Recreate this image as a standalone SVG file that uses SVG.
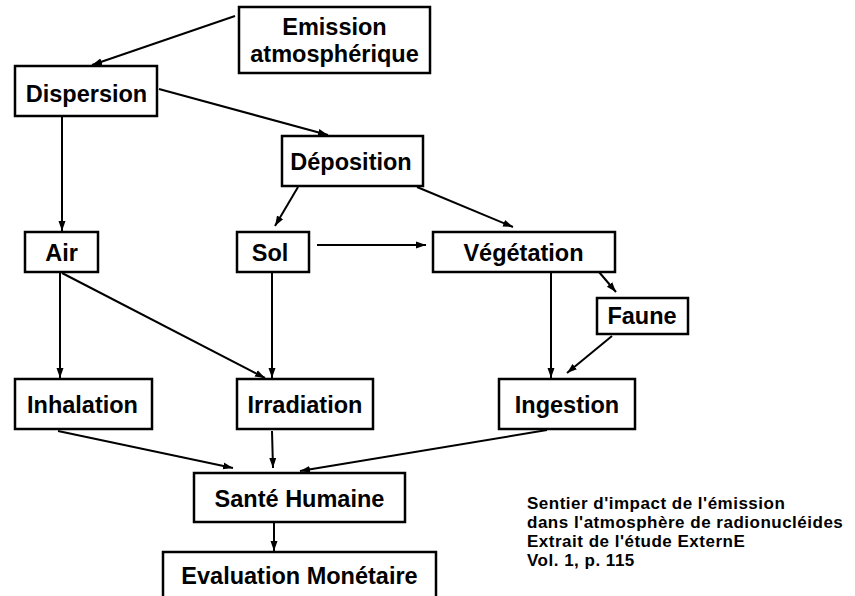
<svg xmlns="http://www.w3.org/2000/svg" width="855" height="596" viewBox="0 0 855 596">
<defs>
<style>
.box{fill:#fff;stroke:#000;stroke-width:2.5}
.lbl{font-family:"Liberation Sans",Arial,sans-serif;font-weight:bold;font-size:23.5px;fill:#000;text-anchor:middle}
.note{font-family:"Liberation Sans",Arial,sans-serif;font-weight:bold;font-size:17px;letter-spacing:0.5px;fill:#000}
.edge{stroke:#000;stroke-width:2;fill:none;marker-end:url(#ah)}
</style>
<marker id="ah" markerUnits="userSpaceOnUse" markerWidth="10" markerHeight="10" viewBox="0 0 10 10" refX="10" refY="5" orient="auto">
<path d="M0,1.5 L10,5 L0,8.5 Z" fill="#000"/>
</marker>
</defs>
<rect width="855" height="596" fill="#fff"/>
<g id="connectors">
<line class="edge" x1="235" y1="16" x2="92" y2="65"/>
<line class="edge" x1="159" y1="89" x2="328" y2="135"/>
<line class="edge" x1="62" y1="116" x2="62" y2="231"/>
<line class="edge" x1="298" y1="187" x2="275" y2="226"/>
<line class="edge" x1="417" y1="187" x2="513" y2="227"/>
<line class="edge" x1="317" y1="245" x2="426" y2="245"/>
<line class="edge" x1="60" y1="273" x2="60" y2="378"/>
<line class="edge" x1="62" y1="273" x2="265" y2="378"/>
<line class="edge" x1="272" y1="273" x2="272" y2="378"/>
<line class="edge" x1="551" y1="273" x2="551" y2="378"/>
<line class="edge" x1="599" y1="272" x2="616" y2="292"/>
<line class="edge" x1="612" y1="336" x2="567" y2="373"/>
<line class="edge" x1="58" y1="431" x2="233" y2="468"/>
<line class="edge" x1="272" y1="431" x2="273" y2="468"/>
<line class="edge" x1="547" y1="430" x2="300" y2="471"/>
<line class="edge" x1="274" y1="523" x2="274" y2="551"/>
</g>
<g id="emission"><rect class="box" x="239" y="7" width="191" height="66"/><text class="lbl" x="334.5" y="35">Emission</text><text class="lbl" x="334.5" y="62">atmosphérique</text></g>
<g id="dispersion"><rect class="box" x="15" y="66" width="142" height="50"/><text class="lbl" x="86.5" y="102">Dispersion</text></g>
<g id="deposition"><rect class="box" x="282" y="136" width="141" height="50"/><text class="lbl" x="351" y="170">Déposition</text></g>
<g id="air"><rect class="box" x="25" y="232" width="73" height="40"/><text class="lbl" x="61.5" y="261">Air</text></g>
<g id="sol"><rect class="box" x="237" y="232" width="72" height="40"/><text class="lbl" x="270" y="261">Sol</text></g>
<g id="vegetation"><rect class="box" x="433" y="232" width="182" height="40"/><text class="lbl" x="523.5" y="261">Végétation</text></g>
<g id="faune"><rect class="box" x="597" y="298" width="91" height="36"/><text class="lbl" x="642" y="324">Faune</text></g>
<g id="inhalation"><rect class="box" x="15" y="379" width="137" height="50"/><text class="lbl" x="82.5" y="413">Inhalation</text></g>
<g id="irradiation"><rect class="box" x="237" y="379" width="136" height="50"/><text class="lbl" x="305" y="413">Irradiation</text></g>
<g id="ingestion"><rect class="box" x="499" y="379" width="136" height="50"/><text class="lbl" x="567" y="413">Ingestion</text></g>
<g id="sante"><rect class="box" x="194" y="473" width="211" height="49"/><text class="lbl" x="299.5" y="507">Santé Humaine</text></g>
<g id="evaluation"><rect class="box" x="163" y="552" width="273" height="60"/><text class="lbl" x="299.5" y="584">Evaluation Monétaire</text></g>
<g id="note">
<text class="note" x="527" y="508.5">Sentier d'impact de l'émission</text>
<text class="note" x="527" y="527.5">dans l'atmosphère de radionucléides</text>
<text class="note" x="527" y="546.5">Extrait de l'étude ExternE</text>
<text class="note" x="527" y="565.5">Vol. 1, p. 115</text>
</g>
</svg>
